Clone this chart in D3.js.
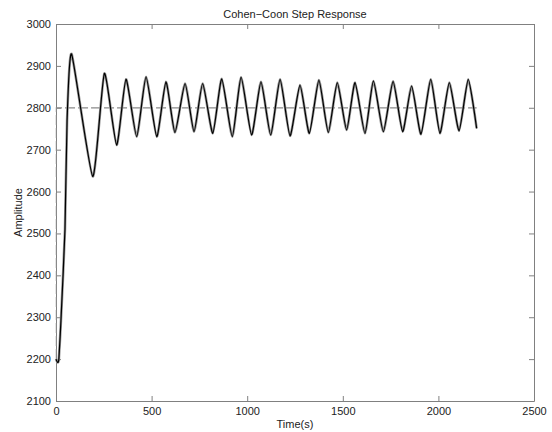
<!DOCTYPE html>
<html>
<head>
<meta charset="utf-8">
<script src="https://cdn.jsdelivr.net/npm/d3@7"></script>
<style>
  body { margin: 0; background: #fff; }
  svg text { font-family: "Liberation Sans", Arial, sans-serif; fill: #222; }
  .axis path, .axis line { stroke: #808080; }
</style>
</head>
<body>
<div id="chart"></div>
<script>
// response samples: start, rise, then peaks / valleys
var riseTime = [0, 8, 15, 26, 47, 58];
var riseValue = [2200, 2192, 2200, 2293, 2510, 2771];
var peakTime = [82, 253, 366, 471, 575, 675, 767, 867, 968, 1072, 1172, 1276, 1375, 1471, 1564, 1660, 1763, 1860, 1960, 2057, 2156];
var peakValue = [2928, 2882, 2868, 2874, 2862, 2858, 2858, 2869, 2873, 2862, 2868, 2854, 2866, 2860, 2860, 2864, 2863, 2852, 2868, 2860, 2868];
var valleyTime = [192, 317, 422, 527, 622, 722, 820, 922, 1023, 1123, 1224, 1325, 1424, 1520, 1616, 1712, 1813, 1909, 2008, 2108, 2200];
var valleyValue = [2636, 2711, 2731, 2731, 2741, 2743, 2739, 2731, 2735, 2735, 2733, 2739, 2741, 2747, 2739, 2743, 2743, 2737, 2739, 2745, 2751];

// set point (dashed)
var spTime = [2, 2, 2200];
var spValue = [2200, 2800, 2800];

var xTicks = [0, 500, 1000, 1500, 2000, 2500];
var yTicks = [2100, 2200, 2300, 2400, 2500, 2600, 2700, 2800, 2900, 3000];

var W = 552, H = 432;
var margin = {top: 24, right: 18, bottom: 31, left: 56},
    width = W - margin.left - margin.right,
    height = H - margin.top - margin.bottom;

var svg = d3.select("#chart").append("svg")
    .attr("width", W)
    .attr("height", H);

var g = svg.append("g")
    .attr("transform", "translate(" + margin.left + "," + margin.top + ")");

var x = d3.scaleLinear().domain([0, 2500]).range([0, width]);
var y = d3.scaleLinear().domain([2100, 3000]).range([height, 0]);

// build the response series
var resp = [];
riseTime.forEach(function(t, i) { resp.push([t, riseValue[i]]); });
peakTime.forEach(function(t, i) {
    resp.push([t, peakValue[i]]);
    resp.push([valleyTime[i], valleyValue[i]]);
});
resp.sort(function(a, b) { return a[0] - b[0]; });

var sp = spTime.map(function(t, i) { return [t, spValue[i]]; });

var line = d3.line()
    .x(function(d) { return x(d[0]); })
    .y(function(d) { return y(d[1]); });

var respLine = d3.line()
    .x(function(d) { return x(d[0]); })
    .y(function(d) { return y(d[1]); })
    .curve(d3.curveCardinal.tension(0.45));

// axes, inward ticks on all four sides (matlab box)
g.append("g")
    .attr("class", "axis")
    .attr("transform", "translate(0," + height + ")")
    .call(d3.axisBottom(x).tickValues(xTicks).tickFormat(d3.format("d")).tickSizeInner(-5).tickSizeOuter(0).tickPadding(6))
    .selectAll("text").style("font-size", "11px");

g.append("g")
    .attr("class", "axis")
    .call(d3.axisTop(x).tickValues(xTicks).tickSizeInner(-5).tickSizeOuter(0).tickFormat(""));

g.append("g")
    .attr("class", "axis")
    .call(d3.axisLeft(y).tickValues(yTicks).tickFormat(d3.format("d")).tickSizeInner(-5).tickSizeOuter(0).tickPadding(5))
    .selectAll("text").style("font-size", "11px");

g.append("g")
    .attr("class", "axis")
    .attr("transform", "translate(" + width + ",0)")
    .call(d3.axisRight(y).tickValues(yTicks).tickSizeInner(-5).tickSizeOuter(0).tickFormat(""));

g.selectAll(".axis .domain").attr("stroke", "#808080");

// set point
g.append("path")
    .datum(sp)
    .attr("fill", "none")
    .attr("stroke", "#8a8a8a")
    .attr("stroke-width", 1.2)
    .attr("stroke-dasharray", "10,3")
    .attr("d", line);

// response: grey halo under a black trace
g.append("path")
    .datum(resp)
    .attr("fill", "none")
    .attr("stroke", "#9a9a9a")
    .attr("stroke-width", 2.6)
    .attr("stroke-linejoin", "round")
    .attr("d", respLine);

g.append("path")
    .datum(resp)
    .attr("fill", "none")
    .attr("stroke", "#000")
    .attr("stroke-width", 1.2)
    .attr("d", respLine);

// labels
svg.append("text")
    .attr("x", margin.left + width / 2)
    .attr("y", 18)
    .attr("text-anchor", "middle")
    .style("font-size", "11px")
    .text("Cohen\u2212Coon Step Response");

svg.append("text")
    .attr("x", margin.left + width / 2)
    .attr("y", 428)
    .attr("text-anchor", "middle")
    .style("font-size", "11px")
    .text("Time(s)");

svg.append("text")
    .attr("transform", "translate(22," + (margin.top + height / 2) + ") rotate(-90)")
    .attr("text-anchor", "middle")
    .style("font-size", "11px")
    .text("Amplitude");
</script>
</body>
</html>
